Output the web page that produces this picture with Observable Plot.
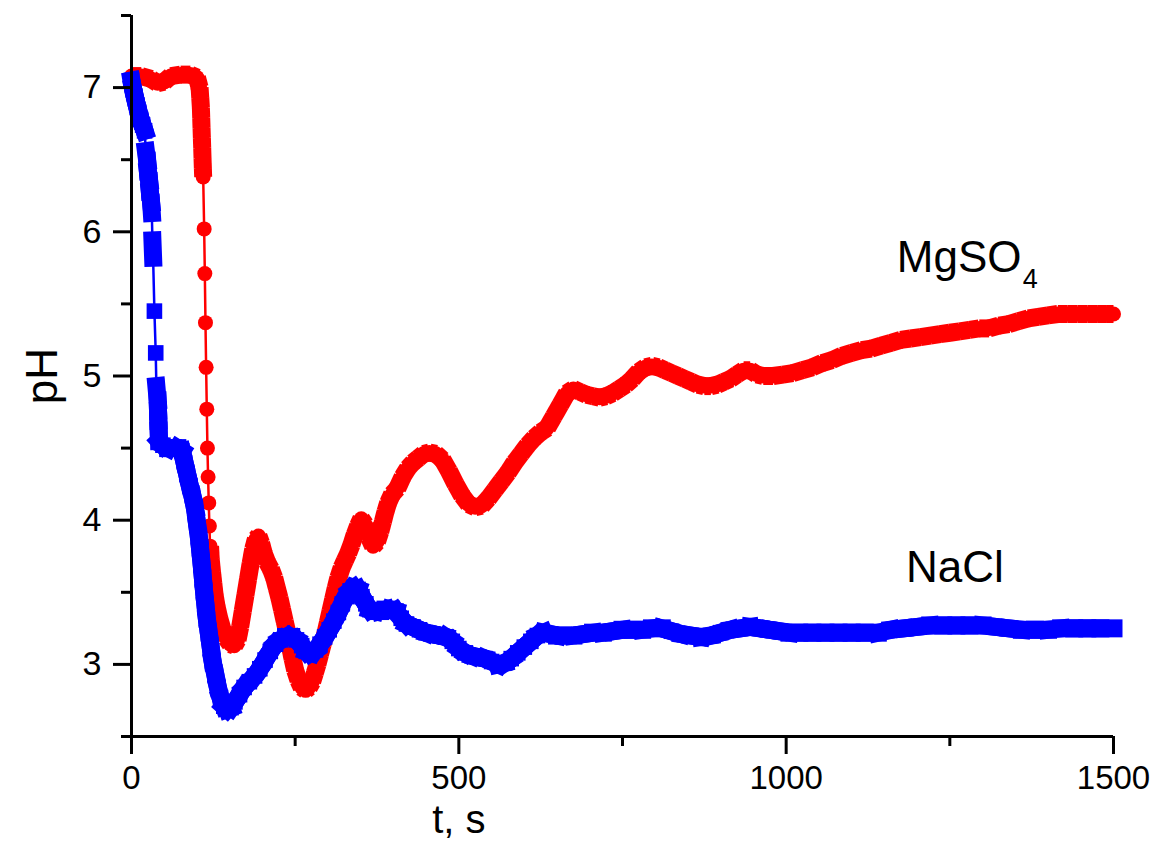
<!DOCTYPE html>
<html><head><meta charset="utf-8">
<script src="https://cdn.jsdelivr.net/npm/d3@7"></script>
<script src="https://cdn.jsdelivr.net/npm/@observablehq/plot@0.6"></script>
<style>body{margin:0;background:#fff}</style>
</head><body><div id="chart"></div>
<script>
// MgSO4 series: [t (s), pH]
const mgso4 = [[0,7.08],[15,7.08],[30,7.06],[40,7.03],[50,7.04],[60,7.08],[75,7.09],[90,7.09],[100,7.07],
[104,7.0],[105,6.93],[106,6.86],[106.5,6.79],[107,6.72],[107.5,6.65],[108,6.58],[108.5,6.51],[109,6.44],[109.5,6.38],
[111,6.02],[112,5.71],[113,5.37],[114,5.06],[115,4.77],[116,4.50],[117,4.30],[118,4.12],[119,3.96],[120,3.82],[121,3.73],
[123,3.64],[125,3.56],[127,3.48],[130,3.40],[134,3.32],[139,3.24],[145,3.18],[151,3.14],[157,3.13],[162,3.17],[166,3.26],[170,3.37],[174,3.48],[178,3.59],[182,3.70],[186,3.80],[190,3.87],[194,3.89],[198,3.84],[202,3.77],[207,3.71],[213,3.66],[218,3.60],[222,3.53],[226,3.46],[230,3.38],[234,3.30],[238,3.22],[242,3.13],[246,3.04],[250,2.96],[255,2.89],[260,2.84],[266,2.82],[271,2.84],[276,2.88],[280,2.94],[284,3.00],[288,3.07],[292,3.14],[296,3.21],[300,3.29],[304,3.37],[308,3.45],[312,3.53],[316,3.60],[321,3.67],[326,3.72],[331,3.77],[336,3.83],[341,3.90],[346,3.96],[351,4.01],[357,3.97],[363,3.88],[369,3.82],[375,3.85],[380,3.92],[384,3.99],[388,4.06],[392,4.12],[398,4.18],[406,4.22],[414,4.30],[422,4.36],[430,4.40],[438,4.43],[446,4.46],[455,4.47],[465,4.46],[475,4.42],[485,4.34],[495,4.25],[505,4.17],[515,4.11],[525,4.09],[535,4.10],[545,4.15],[555,4.21],[565,4.27],[575,4.33],[585,4.40],[595,4.46],[605,4.52],[615,4.57],[625,4.61],[635,4.64],[645,4.72],[655,4.80],[665,4.88],[675,4.91],[685,4.89],[695,4.87],[705,4.86],[715,4.85],[725,4.86],[735,4.88],[745,4.91],[755,4.94],[765,4.98],[775,5.03],[785,5.06],[795,5.07],[805,5.06],[815,5.04],[825,5.02],[835,5.00],[845,4.98],[855,4.96],[865,4.94],[875,4.93],[885,4.93],[895,4.94],[905,4.96],[915,4.98],[925,5.01],[935,5.04],[945,5.04],[955,5.01],[965,5.00],[980,5.00],[995,5.01],[1010,5.02],[1025,5.04],[1040,5.06],[1055,5.09],[1070,5.11],[1085,5.14],[1100,5.16],[1115,5.18],[1130,5.19],[1145,5.21],[1160,5.23],[1175,5.25],[1190,5.26],[1205,5.27],[1220,5.28],[1235,5.29],[1250,5.30],[1265,5.31],[1280,5.32],[1295,5.33],[1310,5.33],[1325,5.35],[1340,5.36],[1355,5.38],[1370,5.40],[1385,5.41],[1400,5.42],[1415,5.43],[1430,5.43],[1445,5.43],[1460,5.43],[1475,5.43],[1490,5.43],[1500,5.43]];

// NaCl series: [t (s), pH]
const nacl = [[0,7.05],[2,7.00],[5,6.94],[8,6.88],[11,6.83],[14,6.78],[17,6.74],[20,6.70],
[22,6.56],[24,6.49],[25,6.42],[27,6.35],[28,6.28],[30,6.20],[31,6.13],
[32,5.94],[33,5.82],[35,5.45],[37,5.16],[38,4.93],
[40,4.83],[40.5,4.76],[41,4.69],[41.5,4.62],[42,4.55],
[48,4.52],[56,4.50],[63,4.50],[70,4.50],[77,4.48],[81,4.40],[85,4.32],[89,4.24],[93,4.17],[97,4.08],[100,3.98],[103,3.88],[105,3.79],[107,3.70],[109,3.60],[111,3.50],[113,3.41],[115,3.32],[118,3.22],[121,3.12],[124,3.02],[128,2.93],[132,2.84],[136,2.77],[141,2.71],[146,2.69],[152,2.70],[158,2.74],[165,2.79],[172,2.84],[180,2.88],[188,2.92],[196,2.97],[204,3.03],[212,3.09],[220,3.14],[228,3.17],[236,3.19],[244,3.19],[252,3.17],[260,3.13],[267,3.09],[274,3.08],[281,3.10],[288,3.14],[295,3.19],[302,3.24],[309,3.30],[316,3.36],[322,3.42],[328,3.47],[334,3.51],[340,3.53],[346,3.52],[352,3.47],[358,3.42],[364,3.38],[372,3.37],[380,3.37],[388,3.38],[396,3.38],[404,3.37],[412,3.32],[420,3.28],[430,3.26],[440,3.24],[450,3.22],[460,3.21],[470,3.20],[480,3.19],[490,3.16],[500,3.11],[510,3.08],[520,3.06],[530,3.05],[540,3.04],[550,3.02],[560,3.00],[570,3.01],[580,3.04],[590,3.08],[600,3.12],[610,3.16],[620,3.20],[630,3.22],[640,3.21],[650,3.20],[660,3.20],[675,3.20],[690,3.21],[705,3.22],[720,3.22],[735,3.23],[750,3.24],[765,3.24],[780,3.24],[795,3.25],[810,3.25],[825,3.23],[840,3.21],[855,3.20],[870,3.19],[885,3.20],[900,3.22],[915,3.24],[930,3.25],[945,3.26],[960,3.25],[975,3.24],[990,3.23],[1005,3.22],[1020,3.22],[1040,3.22],[1060,3.22],[1080,3.22],[1100,3.22],[1120,3.22],[1140,3.22],[1160,3.24],[1180,3.25],[1200,3.26],[1220,3.27],[1240,3.27],[1260,3.27],[1280,3.27],[1300,3.27],[1320,3.26],[1340,3.25],[1360,3.24],[1380,3.24],[1400,3.24],[1420,3.25],[1440,3.25],[1460,3.25],[1480,3.25],[1500,3.25]];

const xMajorTicks = [0, 500, 1000, 1500];
const xMinorTicks = [250, 750, 1250];
const yMajorTicks = [3, 4, 5, 6, 7];
const yMinorTicks = [2.5, 3.5, 4.5, 5.5, 6.5, 7.5];
const seriesNames = ["MgSO", "NaCl"];
const subscript = "4";
const xTitle = "t, s";
const yTitle = "pH";

const W = 1158, H = 841, mL = 131, mR = 45, mT = 15, mB = 105;
const xDom = [0, 1500], yDom = [2.5, 7.5];
const kx = (W - mL - mR) / (xDom[1] - xDom[0]);
const ky = (H - mT - mB) / (yDom[1] - yDom[0]);

// Where consecutive markers overlap on screen, they merge into a thick band.
function bandSegments(pts) {
  const s = [];
  for (let i = 1; i < pts.length; i++) {
    const [t0, p0] = pts[i - 1], [t1, p1] = pts[i];
    if (Math.hypot((t1 - t0) * kx, (p1 - p0) * ky) < 19) s.push({x1: t0, y1: p0, x2: t1, y2: p1});
  }
  return s;
}

const RED = "#ff0000", BLUE = "#0000ff";
const font = "'Liberation Sans', Arial, Helvetica, sans-serif";

const chart = Plot.plot({
  width: W, height: H,
  marginLeft: mL, marginRight: mR, marginTop: mT, marginBottom: mB,
  x: {domain: xDom},
  y: {domain: yDom},
  style: {fontFamily: font, color: "#000", background: "#fff", overflow: "visible"},
  marks: [
    // series
    Plot.link(bandSegments(mgso4), {x1: "x1", y1: "y1", x2: "x2", y2: "y2", stroke: RED, strokeWidth: 18, strokeLinecap: "butt", strokeLinejoin: "round"}),
    Plot.line(mgso4, {x: d => d[0], y: d => d[1], stroke: RED, strokeWidth: 2.5}),
    Plot.dot(mgso4, {x: d => d[0], y: d => d[1], r: 7.5, fill: RED}),
    Plot.link(bandSegments(nacl), {x1: "x1", y1: "y1", x2: "x2", y2: "y2", stroke: BLUE, strokeWidth: 18, strokeLinecap: "square"}),
    Plot.line(nacl, {x: d => d[0], y: d => d[1], stroke: BLUE, strokeWidth: 2.5}),
    Plot.dot(nacl, {x: d => d[0], y: d => d[1], r: 8.8, symbol: "square", fill: BLUE}),
    // axes
    Plot.ruleY([yDom[0]], {stroke: "#000", strokeWidth: 3}),
    Plot.ruleX([xDom[0]], {stroke: "#000", strokeWidth: 3}),
    Plot.axisX({ticks: xMajorTicks, tickSize: 18, tickPadding: 11, fontSize: 33, strokeWidth: 3, tickFormat: d => String(d), label: null}),
    Plot.axisX({ticks: xMinorTicks, tickSize: 10, strokeWidth: 3, tickFormat: () => "", label: null}),
    Plot.axisY({ticks: yMajorTicks, tickSize: 18, tickPadding: 12, fontSize: 34, strokeWidth: 3, tickFormat: d => String(d), label: null}),
    Plot.axisY({ticks: yMinorTicks, tickSize: 10, strokeWidth: 3, tickFormat: () => "", label: null}),
    // series labels
    Plot.text([seriesNames[0]], {x: 1169, y: 5.72, text: d => d, textAnchor: "start", lineAnchor: "bottom", fontSize: 44, fill: "#000"}),
    Plot.text([subscript], {x: 1169, y: 5.72, dx: 126, dy: 16, text: d => d, textAnchor: "start", lineAnchor: "bottom", fontSize: 27, fill: "#000"}),
    Plot.text([seriesNames[1]], {x: 1183, y: 3.57, text: d => d, textAnchor: "start", lineAnchor: "bottom", fontSize: 44, fill: "#000"}),
    // axis titles
    Plot.text([xTitle], {x: 500, y: 1.834, text: d => d, textAnchor: "middle", lineAnchor: "bottom", fontSize: 40, fill: "#000"}),
    Plot.text([yTitle], {x: -136, y: 5.0, text: d => d, rotate: -90, textAnchor: "middle", lineAnchor: "middle", fontSize: 44, fill: "#000"})
  ]
});
document.getElementById("chart").appendChild(chart);
</script>
</body></html>
